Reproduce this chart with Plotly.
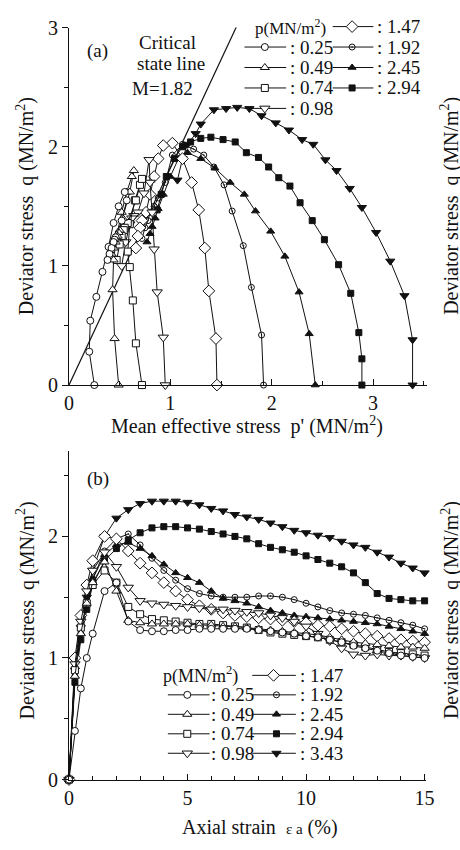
import plotly.graph_objects as go

# ---------------- data ----------------
pressures = ["0.25", "0.49", "0.74", "0.98", "1.47", "1.92", "2.45", "2.94", "3.43"]
M_csl = 1.82
csl_p = [0.0, 1.66]

# panel (a): effective stress paths (p', q)
pa_025 = [0.25, 0.20, 0.21, 0.27, 0.33, 0.39, 0.44, 0.49, 0.55, 0.57, 0.52, 0.46, 0.45, 0.44, 0.42, 0.40, 0.38]
qa_025 = [0.00, 0.28, 0.54, 0.74, 0.95, 1.16, 1.36, 1.50, 1.62, 1.55, 1.38, 1.24, 1.22, 1.20, 1.15, 1.10, 1.05]
pa_049 = [0.49, 0.45, 0.43, 0.44, 0.47, 0.52, 0.57, 0.62, 0.64, 0.60, 0.53, 0.50, 0.49, 0.48, 0.46, 0.44, 0.42]
qa_049 = [0.00, 0.39, 0.80, 1.05, 1.25, 1.45, 1.62, 1.75, 1.80, 1.62, 1.40, 1.30, 1.28, 1.25, 1.20, 1.15, 1.10]
pa_074 = [0.72, 0.66, 0.63, 0.60, 0.58, 0.60, 0.65, 0.70, 0.72, 0.66, 0.58, 0.55, 0.54, 0.52, 0.50, 0.47]
qa_074 = [0.00, 0.35, 0.71, 0.99, 1.12, 1.35, 1.55, 1.68, 1.73, 1.55, 1.36, 1.32, 1.30, 1.25, 1.18, 1.05]
pa_098 = [0.95, 0.93, 0.87, 0.84, 0.82, 0.80, 0.79, 0.74, 0.68, 0.64, 0.62, 0.60, 0.56, 0.52]
qa_098 = [0.00, 0.40, 0.78, 1.14, 1.45, 1.70, 1.89, 1.61, 1.45, 1.42, 1.40, 1.35, 1.20, 1.00]
pa_147 = [1.46, 1.45, 1.38, 1.34, 1.28, 1.21, 1.12, 1.02, 0.93, 0.88, 0.84, 0.80, 0.76, 0.72, 0.70, 0.68, 0.66]
qa_147 = [0.00, 0.39, 0.79, 1.15, 1.47, 1.70, 1.90, 2.03, 2.01, 1.90, 1.75, 1.60, 1.45, 1.38, 1.32, 1.25, 1.15]
pa_192 = [1.92, 1.90, 1.80, 1.72, 1.61, 1.53, 1.43, 1.33, 1.23, 1.12, 1.02, 0.95, 0.88, 0.84, 0.80, 0.78, 0.75, 0.72]
qa_192 = [0.00, 0.42, 0.82, 1.17, 1.46, 1.68, 1.83, 1.93, 1.98, 2.02, 1.93, 1.70, 1.57, 1.50, 1.45, 1.38, 1.32, 1.23]
pa_245 = [2.43, 2.37, 2.27, 2.13, 1.99, 1.84, 1.73, 1.59, 1.44, 1.30, 1.17, 1.08, 1.00, 0.93, 0.88, 0.85, 0.82, 0.80, 0.77]
qa_245 = [0.00, 0.43, 0.78, 1.08, 1.29, 1.46, 1.60, 1.70, 1.82, 1.90, 1.95, 1.90, 1.75, 1.60, 1.48, 1.40, 1.33, 1.27, 1.20]
pa_294 = [2.89, 2.89, 2.86, 2.78, 2.66, 2.52, 2.40, 2.28, 2.18, 2.07, 1.97, 1.87, 1.75, 1.64, 1.52, 1.40, 1.30, 1.20, 1.12, 1.04, 0.96, 0.91, 0.87]
qa_294 = [0.00, 0.22, 0.44, 0.77, 1.01, 1.22, 1.38, 1.53, 1.67, 1.74, 1.83, 1.91, 1.95, 2.04, 2.06, 2.08, 2.07, 2.04, 2.00, 1.90, 1.75, 1.60, 1.47]
pa_343 = [3.39, 3.39, 3.31, 3.17, 3.03, 2.89, 2.77, 2.64, 2.53, 2.41, 2.30, 2.17, 2.04, 1.90, 1.78, 1.66, 1.55, 1.43, 1.30, 1.25, 1.17, 1.12, 1.07]
qa_343 = [0.00, 0.38, 0.75, 1.04, 1.28, 1.49, 1.65, 1.80, 1.89, 2.02, 2.06, 2.14, 2.20, 2.26, 2.32, 2.33, 2.32, 2.31, 2.19, 2.11, 2.02, 1.90, 1.72]

# panel (b): stress-strain curves
strain = [0, 0.25, 0.5, 0.75, 1.0, 1.5, 2.0, 2.5, 3.0, 3.5, 4.0, 4.5, 5.0, 5.5, 6.0, 6.5, 7.0,
          7.5, 8.0, 8.5, 9.0, 9.5, 10.0, 10.5, 11.0, 11.5, 12.0, 12.5, 13.0, 13.5, 14.0, 14.5, 15.0]
qb_025 = [0, 0.40, 0.75, 1.00, 1.20, 1.55, 1.62, 1.30, 1.23, 1.22, 1.22, 1.23, 1.23, 1.24, 1.24, 1.24, 1.24,
          1.24, 1.23, 1.22, 1.21, 1.20, 1.18, 1.17, 1.15, 1.13, 1.10, 1.08, 1.06, 1.04, 1.02, 1.01, 1.00]
qb_049 = [0, 0.85, 1.20, 1.45, 1.62, 1.79, 1.55, 1.31, 1.29, 1.28, 1.28, 1.28, 1.28, 1.27, 1.27, 1.26, 1.26,
          1.25, 1.24, 1.23, 1.22, 1.21, 1.20, 1.19, 1.17, 1.15, 1.13, 1.12, 1.11, 1.10, 1.09, 1.09, 1.08]
qb_074 = [0, 0.90, 1.25, 1.45, 1.60, 1.72, 1.62, 1.42, 1.36, 1.32, 1.31, 1.30, 1.29, 1.28, 1.28, 1.27, 1.26,
          1.25, 1.23, 1.21, 1.20, 1.19, 1.18, 1.17, 1.15, 1.13, 1.11, 1.09, 1.07, 1.05, 1.04, 1.03, 1.02]
qb_098 = [0, 0.95, 1.30, 1.55, 1.72, 1.87, 1.75, 1.58, 1.47, 1.45, 1.44, 1.43, 1.42, 1.41, 1.40, 1.40, 1.39,
          1.38, 1.37, 1.35, 1.33, 1.30, 1.26, 1.20, 1.14, 1.08, 1.03, 1.02, 1.03, 1.02, 1.02, 1.01, 1.00]
qb_147 = [0, 1.00, 1.35, 1.60, 1.80, 2.00, 1.98, 1.88, 1.78, 1.70, 1.62, 1.55, 1.48, 1.43, 1.40, 1.37, 1.35,
          1.34, 1.33, 1.32, 1.31, 1.30, 1.29, 1.27, 1.26, 1.24, 1.22, 1.20, 1.18, 1.16, 1.15, 1.14, 1.13]
qb_192 = [0, 0.85, 1.20, 1.45, 1.65, 1.88, 1.98, 2.02, 1.93, 1.82, 1.72, 1.64, 1.57, 1.53, 1.51, 1.50, 1.50,
          1.50, 1.51, 1.51, 1.50, 1.48, 1.45, 1.42, 1.39, 1.37, 1.36, 1.35, 1.33, 1.31, 1.29, 1.27, 1.24]
qb_245 = [0, 0.85, 1.20, 1.45, 1.65, 1.85, 1.93, 1.95, 1.90, 1.84, 1.77, 1.70, 1.66, 1.62, 1.55, 1.49, 1.47,
          1.45, 1.42, 1.39, 1.37, 1.35, 1.34, 1.33, 1.32, 1.31, 1.30, 1.29, 1.28, 1.26, 1.24, 1.22, 1.20]
qb_294 = [0, 0.80, 1.15, 1.40, 1.60, 1.80, 1.90, 1.97, 2.03, 2.07, 2.08, 2.08, 2.07, 2.06, 2.04, 2.02, 2.00,
          1.98, 1.94, 1.91, 1.89, 1.87, 1.84, 1.81, 1.78, 1.75, 1.70, 1.62, 1.53, 1.49, 1.48, 1.47, 1.47]
qb_343 = [0, 0.90, 1.25, 1.50, 1.72, 2.00, 2.15, 2.22, 2.27, 2.29, 2.29, 2.29, 2.28, 2.26, 2.23, 2.21, 2.18,
          2.16, 2.14, 2.11, 2.08, 2.05, 2.03, 2.01, 1.99, 1.96, 1.93, 1.91, 1.87, 1.83, 1.78, 1.74, 1.70]

xticks_a = [0, 1, 2, 3]
yticks_a = [0, 1, 2, 3]
xticks_b = [0, 5, 10, 15]
yticks_b = [0, 1, 2]

paths_a = {"0.25": (pa_025, qa_025), "0.49": (pa_049, qa_049), "0.74": (pa_074, qa_074),
           "0.98": (pa_098, qa_098), "1.47": (pa_147, qa_147), "1.92": (pa_192, qa_192),
           "2.45": (pa_245, qa_245), "2.94": (pa_294, qa_294), "3.43": (pa_343, qa_343)}
curves_b = {"0.25": qb_025, "0.49": qb_049, "0.74": qb_074, "0.98": qb_098, "1.47": qb_147,
            "1.92": qb_192, "2.45": qb_245, "2.94": qb_294, "3.43": qb_343}

# ---------------- styles ----------------
BLACK = "#111111"
FONT = "Liberation Serif"
sty = {
    "0.25": dict(symbol="circle", color="white", size=7),
    "0.49": dict(symbol="triangle-up", color="white", size=8),
    "0.74": dict(symbol="square", color="white", size=7),
    "0.98": dict(symbol="triangle-down", color="white", size=9),
    "1.47": dict(symbol="diamond", color="white", size=9),
    "1.92": dict(symbol="circle-open-dot", color=BLACK, size=6),
    "2.45": dict(symbol="triangle-up", color=BLACK, size=7),
    "2.94": dict(symbol="square", color=BLACK, size=6),
    "3.43": dict(symbol="triangle-down", color=BLACK, size=8),
}


def mk(k):
    s = sty[k]
    return dict(symbol=s["symbol"], size=s["size"], color=s["color"],
                line=dict(color=BLACK, width=1))


fig = go.Figure()

# critical state line
fig.add_trace(go.Scatter(x=csl_p, y=[M_csl * v for v in csl_p], mode="lines",
                         line=dict(color=BLACK, width=1.2), xaxis="x", yaxis="y",
                         cliponaxis=False, showlegend=False, hoverinfo="skip"))

order = ["3.43", "2.94", "2.45", "1.92", "1.47", "0.98", "0.74", "0.49", "0.25"]
for k in order:
    p, q = paths_a[k]
    fig.add_trace(go.Scatter(x=p, y=q, mode="lines+markers", line=dict(color=BLACK, width=1),
                             marker=mk(k), xaxis="x", yaxis="y", showlegend=False, cliponaxis=False))
for k in order:
    fig.add_trace(go.Scatter(x=strain, y=curves_b[k], mode="lines+markers",
                             line=dict(color=BLACK, width=1),
                             marker=mk(k), xaxis="x2", yaxis="y2", showlegend=False, cliponaxis=False))

# ---------------- manual legends (pixel overlay axis x3/y3) ----------------
shapes = []
annotations = []


def legend_entry(k, x0, x1, xm, y, xt):
    shapes.append(dict(type="line", xref="x3", yref="y3", x0=x0, x1=x1, y0=y, y1=y,
                       line=dict(color=BLACK, width=1), layer="below"))
    fig.add_trace(go.Scatter(x=[xm], y=[y], mode="markers", marker=mk(k), xaxis="x3", yaxis="y3",
                             showlegend=False, cliponaxis=False, hoverinfo="skip"))
    annotations.append(dict(xref="x3", yref="y3", x=xt, y=y, text=": " + k, showarrow=False,
                            xanchor="left", yanchor="middle", font=dict(family=FONT, size=19, color=BLACK)))


# panel (a) legend
ya_rows = [16, 37, 58, 79, 100]
annotations.append(dict(xref="x3", yref="y3", x=256, y=ya_rows[0], text="p(MN/m<sup>2</sup>)",
                        showarrow=False, xanchor="left", yanchor="middle",
                        font=dict(family=FONT, size=17, color=BLACK)))
legend_entry("1.47", 338, 380, 358, ya_rows[0], 382)
for i, k in enumerate(["0.25", "0.49", "0.74", "0.98"]):
    legend_entry(k, 247, 290, 268, ya_rows[i + 1], 292)
for i, k in enumerate(["1.92", "2.45", "2.94"]):
    legend_entry(k, 338, 380, 358, ya_rows[i + 1], 382)

# panel (b) legend
yb_rows = [682, 702, 722, 742, 762]
annotations.append(dict(xref="x3", yref="y3", x=161, y=yb_rows[0], text="p(MN/m<sup>2</sup>)",
                        showarrow=False, xanchor="left", yanchor="middle",
                        font=dict(family=FONT, size=18, color=BLACK)))
legend_entry("1.47", 255, 300, 277, yb_rows[0], 302)
for i, k in enumerate(["0.25", "0.49", "0.74", "0.98"]):
    legend_entry(k, 168, 211, 188, yb_rows[i + 1], 210)
for i, k in enumerate(["1.92", "2.45", "2.94", "3.43"]):
    legend_entry(k, 255, 300, 280, yb_rows[i + 1], 302)

# text labels
tf = dict(family=FONT, size=19, color=BLACK)
for txt, x, y in [("(a)", 82, 41), ("Critical", 136, 32), ("state line", 134, 54), ("M=1.82", 129, 80),
                  ("(b)", 82, 480)]:
    annotations.append(dict(xref="x3", yref="y3", x=x, y=y, text=txt, showarrow=False,
                            xanchor="left", yanchor="middle", font=tf))

tt = dict(family=FONT, size=20, color=BLACK)
annotations.append(dict(xref="x3", yref="y3", x=250, y=426, text="Mean effective stress  p' (MN/m<sup>2</sup>)",
                        showarrow=False, xanchor="center", yanchor="middle", font=tt))
annotations.append(dict(xref="x3", yref="y3", x=263, y=838,
                        text="Axial strain  <span style='font-size:15px'>ε a</span> (%)",
                        showarrow=False, xanchor="center", yanchor="middle", font=tt))
ytitle = "Deviator stress  q (MN/m<sup>2</sup>)"
for x in (21, 459):
    for y in (200, 615):
        annotations.append(dict(xref="x3", yref="y3", x=x, y=y, text=ytitle, textangle=-90,
                                showarrow=False, xanchor="center", yanchor="middle", font=tt))

W, H = 460, 850
axis_common = dict(showline=True, linecolor=BLACK, linewidth=1, showgrid=False, zeroline=False,
                   tickfont=dict(family=FONT, size=20, color=BLACK), tickcolor=BLACK, ticklen=6,
                   fixedrange=True)

fig.update_layout(
    width=W, height=H, margin=dict(l=0, r=0, t=0, b=0),
    paper_bgcolor="white", plot_bgcolor="rgba(0,0,0,0)",
    xaxis=dict(axis_common, domain=[66 / W, 435 / W], anchor="y", range=[0, 3.53],
               tickvals=xticks_a, ticks="inside",
               minor=dict(dtick=0.5, ticks="inside", ticklen=4, tickcolor=BLACK)),
    yaxis=dict(axis_common, domain=[1 - 384 / H, 1 - 17 / H], anchor="x", range=[0, 3.0],
               tickvals=yticks_a, ticks="outside",
               minor=dict(dtick=0.5, ticks="outside", ticklen=4, tickcolor=BLACK)),
    xaxis2=dict(axis_common, domain=[66 / W, 434 / W], anchor="y2", range=[0, 15.05],
                tickvals=xticks_b, ticks="inside",
                minor=dict(dtick=1, ticks="inside", ticklen=4, tickcolor=BLACK)),
    yaxis2=dict(axis_common, domain=[1 - 789 / H, 1 - 452 / H], anchor="x2", range=[0, 2.7],
                tickvals=yticks_b, ticks="outside",
                minor=dict(dtick=0.5, ticks="outside", ticklen=4, tickcolor=BLACK)),
    xaxis3=dict(domain=[0, 1], range=[0, W], visible=False, fixedrange=True, anchor="y3"),
    yaxis3=dict(domain=[0, 1], range=[H, 0], visible=False, fixedrange=True, anchor="x3"),
    shapes=shapes, annotations=annotations, showlegend=False,
)

fig.write_html("out.html")
